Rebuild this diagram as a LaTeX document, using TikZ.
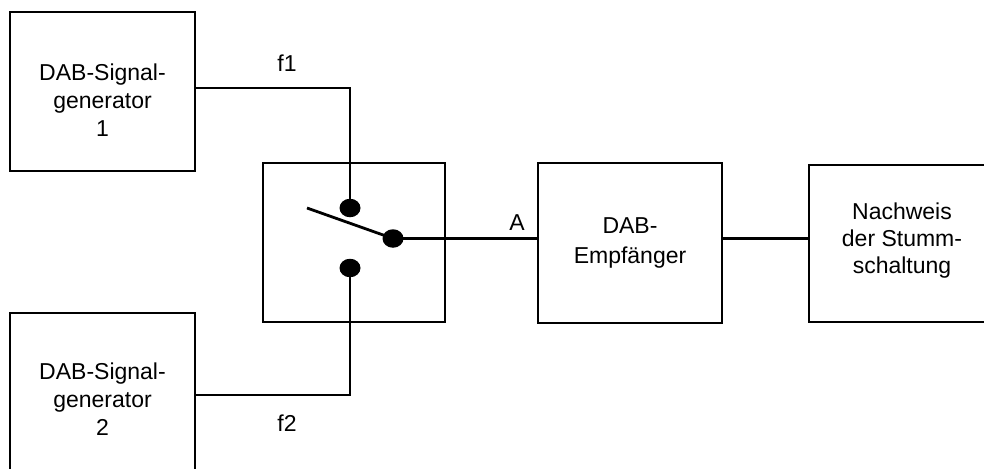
\documentclass[tikz,border=0pt]{standalone}
\usepackage{fontspec}
\setmainfont{Liberation Sans}
\usetikzlibrary{shapes.geometric}
\begin{document}
\begin{tikzpicture}[x=1pt,y=-1pt,line width=2.8pt,
  box/.style={draw,rectangle,inner sep=0pt,line width=2.8pt},
  txt/.style={font=\fontsize{23}{28}\selectfont,align=center,inner sep=0pt},
  lbl/.style={font=\fontsize{23}{28}\selectfont,inner sep=0pt},
  contact/.style={fill,ellipse,minimum width=21pt,minimum height=18.5pt,inner sep=0pt},
  wire/.style={line width=2.8pt}]
\useasboundingbox (0,0) rectangle (984,468);
\clip (0,0) rectangle (984,468);
% boxes
\node[box,minimum width=185pt,minimum height=159pt] (gen1) at (102.5,91.5) {};
\node[box,minimum width=185pt,minimum height=172pt] (gen2) at (102.5,399) {};
\node[box,minimum width=182pt,minimum height=159pt] (sw) at (354,242.5) {};
\node[box,minimum width=184pt,minimum height=160pt] (rx) at (630,243) {};
\node[box,minimum width=186pt,minimum height=157pt] (nach) at (902,243.5) {};
% texts
\node[txt] (gen1t) at (102.5,100.5) {DAB-Signal-\\generator\\1};
\node[txt] (gen2t) at (102.5,399) {DAB-Signal-\\generator\\2};
\node[txt,font=\fontsize{23}{30}\selectfont] (rxt) at (630,243) {DAB-\\Empfänger};
\node[txt,font=\fontsize{23}{27}\selectfont] (nacht) at (902,240.7) {Nachweis\\der Stumm-\\schaltung};
% contacts
\node[contact] (c1) at (350,208) {};
\node[contact] (c2) at (350,268) {};
\node[contact] (c0) at (393,238.5) {};
\coordinate (lever) at (307,208);
\coordinate (w1) at (195,88);
\coordinate (w2) at (195,395);
% wires
\draw[wire] (w1) -| (c1.center);
\draw[wire] (w2) -| (c2.center);
\draw[wire] (lever) -- (c0.center);
\draw[wire] (c0.center) -- (c0 -| rx.west);
\draw[wire] (rx.east |- c0) -- (nach.west |- c0);
% labels
\node[lbl] (f1) at (287,63) {f1};
\node[lbl] (f2) at (287,423) {f2};
\node[lbl] (A) at (517,222.5) {A};
\end{tikzpicture}
\end{document}
